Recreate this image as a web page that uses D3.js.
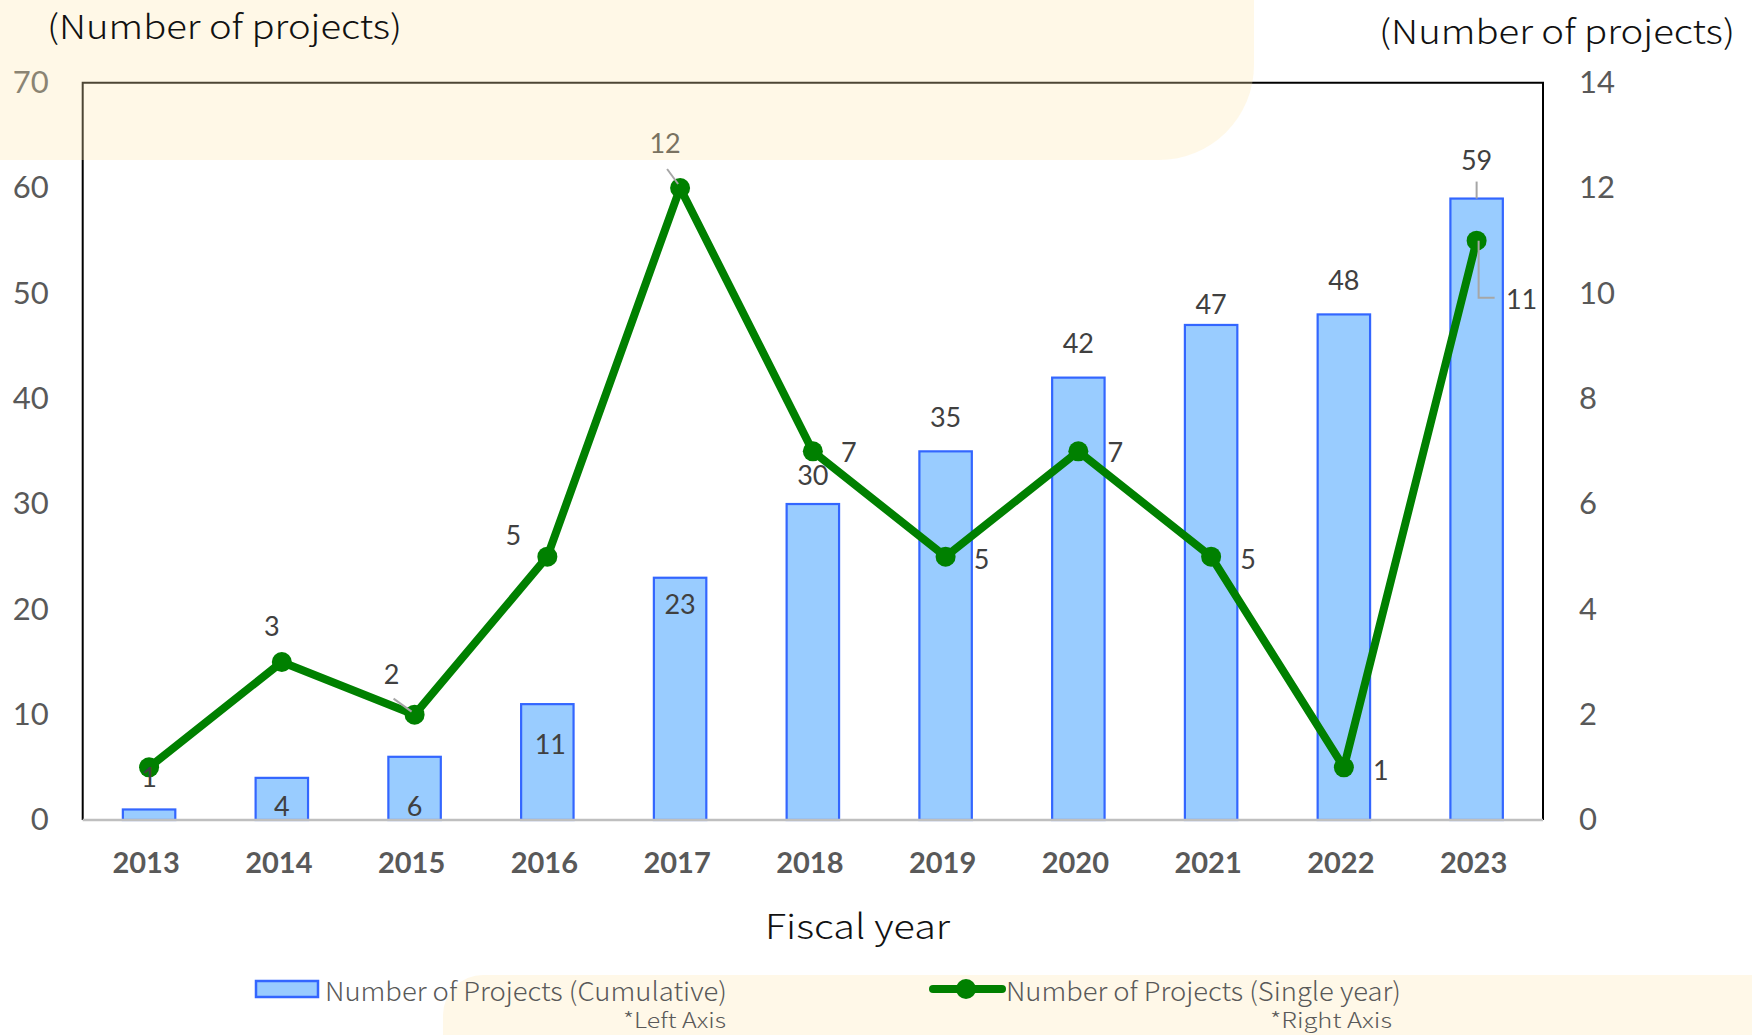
<!DOCTYPE html>
<html>
<head>
<meta charset="utf-8">
<script src="https://cdn.jsdelivr.net/npm/d3@7"></script>
<style>
  body { margin: 0; background: #fff; }
  svg { display: block; }
</style>
</head>
<body>
<div id="chart"></div>
<script>
// Data
const years = ["2013", "2014", "2015", "2016", "2017", "2018", "2019", "2020", "2021", "2022", "2023"];
const cumulative = [1, 4, 6, 11, 23, 30, 35, 42, 47, 48, 59];
const singleYear = [1, 3, 2, 5, 12, 7, 5, 7, 5, 1, 11];
const leftTicks = [0, 10, 20, 30, 40, 50, 60, 70];
const rightTicks = [0, 2, 4, 6, 8, 10, 12, 14];

// Label placement (pixel offsets, as dragged in the original)
const barLabelDy = [null, 28, 49, 39, 26, -30, -35, -35, -21, -35, -39];
const lineLabelOffset = [[0, 9], [-10, -37], [-23, -41], [-34, -22], [-15, -46], [36, 0],
                         [36, 2], [37, 0], [37, 2], [37, 2], [45, 58]];

const W = 1752, H = 1035;
const margin = { top: 82.7, right: W - 1543, bottom: H - 820, left: 82.7 };

const svg = d3.select("#chart").append("svg")
    .attr("width", W)
    .attr("height", H);

const x = d3.scaleBand()
    .domain(years)
    .range([margin.left, W - margin.right])
    .padding(0);

const yL = d3.scaleLinear().domain([0, 70]).range([H - margin.bottom, margin.top]);
const yR = d3.scaleLinear().domain([0, 14]).range([H - margin.bottom, margin.top]);

const barW = x.bandwidth() * 0.395;
const cx = d => x(d) + x.bandwidth() / 2;

const numFont = "Lato, 'Open Sans', sans-serif";
const jpFont = "'Noto Sans CJK JP', 'Noto Sans', sans-serif";

// Bottom cream band (behind the legend)
svg.append("path")
    .attr("d", "M443,1035V1015A40,40 0 0 1 483,975H1752V1035Z")
    .attr("fill", "#FFF8E8");

// Bars
svg.append("g").selectAll("rect")
    .data(years)
    .enter().append("rect")
    .attr("x", d => cx(d) - barW / 2)
    .attr("y", (d, i) => yL(cumulative[i]))
    .attr("width", barW)
    .attr("height", (d, i) => yL(0) - yL(cumulative[i]))
    .attr("fill", "#99CCFF")
    .attr("stroke", "#3366FF")
    .attr("stroke-width", 2.2);

// Frame
const frame = svg.append("g");
frame.append("path")
    .attr("d", `M${margin.left},${yL(0)}V${margin.top}H${W - margin.right}V${yL(0)}`)
    .attr("fill", "none")
    .attr("stroke", "#000")
    .attr("stroke-width", 2);
frame.append("line")
    .attr("x1", margin.left).attr("x2", W - margin.right)
    .attr("y1", yL(0)).attr("y2", yL(0))
    .attr("stroke", "#BFBFBF")
    .attr("stroke-width", 2.5);

// Axes
const left = svg.append("g")
    .attr("transform", `translate(${margin.left},0)`)
    .call(d3.axisLeft(yL).tickValues(leftTicks).tickSize(0).tickPadding(34));
const right = svg.append("g")
    .attr("transform", `translate(${W - margin.right},0)`)
    .call(d3.axisRight(yR).tickValues(rightTicks).tickSize(0).tickPadding(36));
const bottom = svg.append("g")
    .attr("transform", `translate(-3,${yL(0)})`)
    .call(d3.axisBottom(x).tickSize(0).tickPadding(32));

[left, right, bottom].forEach(g => {
    g.select(".domain").remove();
    g.selectAll("text")
        .attr("fill", "#595959")
        .style("font-family", numFont)
        .style("font-size", "31px");
});
bottom.selectAll("text")
    .style("font-weight", "bold")
    .style("font-size", "29px");

// Line
const line = d3.line()
    .x((d, i) => cx(years[i]))
    .y(d => yR(d));

svg.append("path")
    .datum(singleYear)
    .attr("d", line)
    .attr("fill", "none")
    .attr("stroke", "#008000")
    .attr("stroke-width", 8)
    .attr("stroke-linejoin", "round");

svg.append("g").selectAll("circle")
    .data(singleYear)
    .enter().append("circle")
    .attr("cx", (d, i) => cx(years[i]))
    .attr("cy", d => yR(d))
    .attr("r", 10)
    .attr("fill", "#008000");

// Leader lines
const leaders = svg.append("g")
    .attr("fill", "none")
    .attr("stroke", "#A6A6A6")
    .attr("stroke-width", 2);
const pt = i => [cx(years[i]), yR(singleYear[i])];
let [px, py] = pt(2);
leaders.append("path").attr("d", `M${px - 21},${py - 16}L${px - 3},${py - 3}`);
[px, py] = pt(4);
leaders.append("path").attr("d", `M${px - 13},${py - 19}L${px - 2},${py - 4}`);
[px, py] = pt(10);
leaders.append("path").attr("d", `M${px + 2},${py}V${py + 57}H${px + 18}`);
const b59 = yL(cumulative[10]);
leaders.append("path").attr("d", `M${cx(years[10])},${b59 - 17}V${b59}`);

// Data labels
const labelStyle = sel => sel
    .attr("text-anchor", "middle")
    .attr("dominant-baseline", "central")
    .attr("fill", "#404040")
    .style("font-family", numFont)
    .style("font-size", "27px");

svg.append("g").selectAll("text")
    .data(years.filter((d, i) => barLabelDy[i] !== null))
    .enter().append("text")
    .attr("x", d => cx(d) + (d === "2016" ? 3 : 0))
    .attr("y", d => { const i = years.indexOf(d); return yL(cumulative[i]) + barLabelDy[i]; })
    .text(d => cumulative[years.indexOf(d)])
    .call(labelStyle);

svg.append("g").selectAll("text")
    .data(singleYear)
    .enter().append("text")
    .attr("x", (d, i) => cx(years[i]) + lineLabelOffset[i][0])
    .attr("y", (d, i) => yR(d) + lineLabelOffset[i][1])
    .text(d => d)
    .call(labelStyle);

// Top cream overlay (semi-transparent, over the plot top)
svg.append("path")
    .attr("d", "M0,0H1254V65A95,95 0 0 1 1159,160H0Z")
    .attr("fill", "#FFE9B0")
    .attr("opacity", 0.3);

// Axis titles
const titleText = [
    { x: 47, y: 25, w: 355, s: 33, t: "(Number of projects)" },
    { x: 1379, y: 30, w: 356, s: 33, t: "(Number of projects)" },
    { x: 765, y: 924, w: 185, s: 34, t: "Fiscal year" }
];
svg.append("g").selectAll("text")
    .data(titleText)
    .enter().append("text")
    .attr("x", d => d.x).attr("y", d => d.y)
    .attr("dominant-baseline", "central")
    .attr("textLength", d => d.w).attr("lengthAdjust", "spacingAndGlyphs")
    .style("font-family", jpFont)
    .style("font-weight", 300)
    .style("font-size", d => d.s + "px")
    .attr("fill", "#111")
    .text(d => d.t);

// Legend
const legend = svg.append("g");
legend.append("rect")
    .attr("x", 256).attr("y", 981).attr("width", 62).attr("height", 16)
    .attr("fill", "#99CCFF").attr("stroke", "#3366FF").attr("stroke-width", 2.5);
legend.append("line")
    .attr("x1", 933).attr("x2", 1002).attr("y1", 989).attr("y2", 989)
    .attr("stroke", "#008000").attr("stroke-width", 8).attr("stroke-linecap", "round");
legend.append("circle")
    .attr("cx", 966).attr("cy", 989).attr("r", 10).attr("fill", "#008000");

const legendText = [
    { x: 325, y: 989, w: 402, s: 26, t: "Number of Projects (Cumulative)" },
    { x: 1006, y: 989, w: 395, s: 26, t: "Number of Projects (Single year)" },
    { x: 623, y: 1019, w: 103, s: 21, t: "*Left Axis" },
    { x: 1270, y: 1019, w: 122, s: 21, t: "*Right Axis" }
];
legend.selectAll("text.lt")
    .data(legendText)
    .enter().append("text")
    .attr("class", "lt")
    .attr("x", d => d.x).attr("y", d => d.y)
    .attr("dominant-baseline", "central")
    .attr("textLength", d => d.w).attr("lengthAdjust", "spacingAndGlyphs")
    .style("font-family", jpFont)
    .style("font-weight", 300)
    .style("font-size", d => d.s + "px")
    .attr("fill", "#595959")
    .text(d => d.t);
</script>
</body>
</html>
